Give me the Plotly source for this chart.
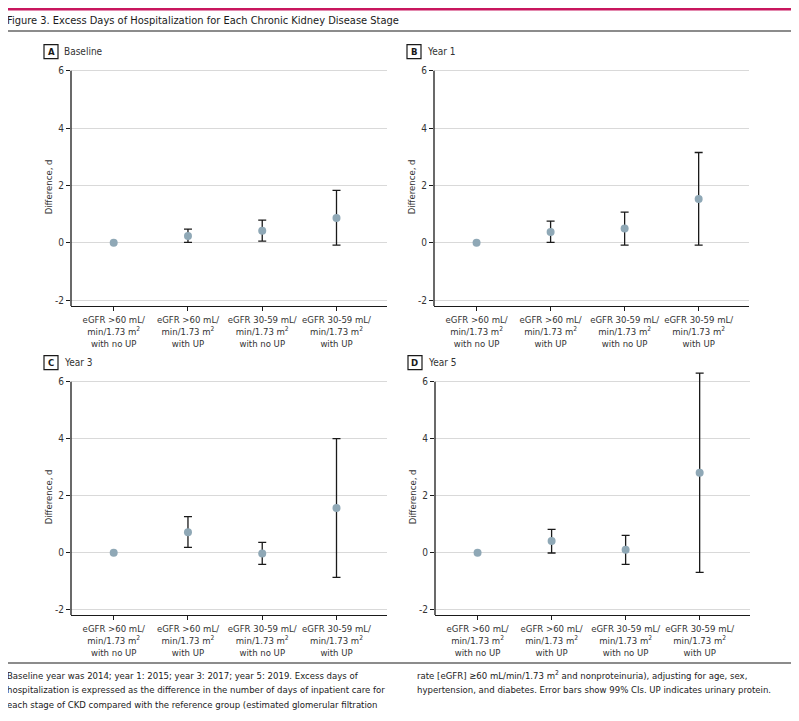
import plotly.graph_objects as go

# ---------------- data ----------------
categories = [
    "eGFR >60 mL/<br>min/1.73 m<sup>2</sup><br>with no UP",
    "eGFR >60 mL/<br>min/1.73 m<sup>2</sup><br>with UP",
    "eGFR 30-59 mL/<br>min/1.73 m<sup>2</sup><br>with no UP",
    "eGFR 30-59 mL/<br>min/1.73 m<sup>2</sup><br>with UP",
]
panel_letters = ["A", "B", "C", "D"]
panel_names = ["Baseline", "Year 1", "Year 3", "Year 5"]

baseline_est = [0.0, 0.24, 0.42, 0.87]
baseline_lo = [0.0, 0.02, 0.06, -0.08]
baseline_hi = [0.0, 0.48, 0.79, 1.83]

year1_est = [0.0, 0.38, 0.50, 1.53]
year1_lo = [0.0, 0.02, -0.08, -0.08]
year1_hi = [0.0, 0.76, 1.07, 3.15]

year3_est = [-0.01, 0.71, -0.04, 1.56]
year3_lo = [-0.01, 0.18, -0.42, -0.88]
year3_hi = [-0.01, 1.26, 0.35, 4.00]

year5_est = [-0.01, 0.40, 0.09, 2.80]
year5_lo = [-0.01, -0.02, -0.42, -0.70]
year5_hi = [-0.01, 0.81, 0.60, 6.30]

y_ticks = [-2, 0, 2, 4, 6]
y_tick_text = ["-2", "0", "2", "4", "6"]

title_text = "Figure 3. Excess Days of Hospitalization for Each Chronic Kidney Disease Stage"
caption_left = [
    "Baseline year was 2014; year 1: 2015; year 3: 2017; year 5: 2019. Excess days of",
    "hospitalization is expressed as the difference in the number of days of inpatient care for",
    "each stage of CKD compared with the reference group (estimated glomerular filtration",
]
caption_right = [
    "rate [eGFR] \u226560 mL/min/1.73 m<sup>2</sup> and nonproteinuria), adjusting for age, sex,",
    "hypertension, and diabetes. Error bars show 99% CIs. UP indicates urinary protein.",
]

series = [
    (baseline_est, baseline_lo, baseline_hi),
    (year1_est, year1_lo, year1_hi),
    (year3_est, year3_lo, year3_hi),
    (year5_est, year5_lo, year5_hi),
]

# ---------------- layout geometry (pixels of the reference) ----------------
OFFX, OFFY = 8, 8          # page offset of the plot div inside the browser
W, H = 799 - OFFX, 721 - OFFY
FONT = "DejaVu Sans Condensed, Liberation Sans Narrow, Arial Narrow, sans-serif"
TXT = "#333333"
MARK = "#8fa8b6"
YMIN, YMAX, YTOP = -2.2, 6.0, 6.45

# (x0, x1, y at value 6, ybottom) in reference pixels
boxes = [
    (71, 387, 70.7, 306),
    (434, 749, 70.7, 306),
    (71, 387, 381.7, 615),
    (435, 750, 381.7, 615),
]

def fx(px):
    return (px - OFFX) / W

def fy(py):
    return 1 - (py - OFFY) / H

fig = go.Figure()

for i, ((est, lo, hi), (x0, x1, yt, yb)) in enumerate(zip(series, boxes)):
    n = i + 1
    xa = "x" if n == 1 else f"x{n}"
    ya = "y" if n == 1 else f"y{n}"
    idx = list(range(len(categories)))
    unit = (yb - yt) / (YMAX - YMIN)
    ytop_px = yt - (YTOP - YMAX) * unit
    # reference point (no CI)
    fig.add_trace(go.Scatter(
        x=[idx[0]], y=[est[0]], mode="markers", xaxis=xa, yaxis=ya,
        marker=dict(color=MARK, size=8), showlegend=False, hoverinfo="skip"))
    # points with CI
    fig.add_trace(go.Scatter(
        x=idx[1:], y=est[1:], mode="markers", xaxis=xa, yaxis=ya,
        marker=dict(color=MARK, size=8),
        error_y=dict(type="data", symmetric=False,
                     array=[h - e for h, e in zip(hi[1:], est[1:])],
                     arrayminus=[e - l for e, l in zip(est[1:], lo[1:])],
                     color="#1a1a1a", thickness=1.3, width=4),
        showlegend=False, hoverinfo="skip"))

    xkey = "xaxis" if n == 1 else f"xaxis{n}"
    ykey = "yaxis" if n == 1 else f"yaxis{n}"
    fig.update_layout(**{
        xkey: dict(domain=[fx(x0), fx(x1)], anchor=ya, range=[-0.575, 3.68],
                   tickvals=idx, ticktext=categories, tickangle=0, showgrid=False,
                   showline=True, linecolor="#1a1a1a", linewidth=1.3,
                   ticks="outside", ticklen=4, tickcolor="#1a1a1a",
                   tickfont=dict(family=FONT, size=9.5, color=TXT), zeroline=False,
                   fixedrange=True),
        ykey: dict(domain=[fy(yb), fy(ytop_px)], anchor=xa, range=[YMIN, YTOP],
                   tickvals=y_ticks, ticktext=y_tick_text, showgrid=True,
                   gridcolor="#d9d9d9", gridwidth=1, zeroline=False,
                   showline=False,
                   ticks="outside", ticklen=4, tickcolor="#1a1a1a",
                   tickfont=dict(family=FONT, size=10, color=TXT), fixedrange=True),
    })
    # y axis line from bottom to 6 exactly
    fig.add_shape(type="line", xref="paper", yref=ya, x0=fx(x0), x1=fx(x0), y0=YMIN, y1=YMAX,
                  line=dict(color="#1a1a1a", width=1.3), layer="above")
    # y title
    fig.add_annotation(text="Difference, d", textangle=-90, xref="paper", yref="paper",
                       x=fx(x0 - 23), y=fy((yt + yb) / 2 - 1), showarrow=False,
                       font=dict(family=FONT, size=9.5, color=TXT),
                       xanchor="center", yanchor="middle")
    # panel label box
    bx0 = x0 - 27
    by0 = yt - 26
    fig.add_shape(type="rect", xref="paper", yref="paper",
                  x0=fx(bx0), x1=fx(bx0 + 14), y0=fy(by0), y1=fy(by0 + 14),
                  line=dict(color="#1a1a1a", width=1.2), fillcolor="white")
    fig.add_annotation(text="<b>" + panel_letters[i] + "</b>", xref="paper", yref="paper",
                       x=fx(bx0 + 7), y=fy(by0 + 7), showarrow=False,
                       font=dict(family=FONT, size=9.5, color="#1a1a1a"),
                       xanchor="center", yanchor="middle")
    fig.add_annotation(text=panel_names[i], xref="paper", yref="paper",
                       x=fx(bx0 + 18), y=fy(by0 + 7), showarrow=False,
                       font=dict(family=FONT, size=10, color=TXT),
                       xanchor="left", yanchor="middle")

# top pink band and title rule
fig.add_shape(type="rect", xref="paper", yref="paper", x0=fx(6), x1=fx(793), y0=fy(7.5), y1=fy(10.5),
              line=dict(width=0), fillcolor="#c8175e")
fig.add_shape(type="line", xref="paper", yref="paper", x0=fx(6), x1=fx(793), y0=fy(31), y1=fy(31),
              line=dict(color="#1a1a1a", width=1.2))
fig.add_annotation(text=title_text, xref="paper", yref="paper", x=fx(5), y=fy(20),
                   showarrow=False, xanchor="left", yanchor="middle",
                   font=dict(family=FONT, size=11, color="#1a1a1a"))

# bottom rule and caption
fig.add_shape(type="line", xref="paper", yref="paper", x0=fx(6), x1=fx(793), y0=fy(663), y1=fy(663),
              line=dict(color="#1a1a1a", width=1.2))
for k, line in enumerate(caption_left):
    fig.add_annotation(text=line, xref="paper", yref="paper", x=fx(5), y=fy(675 + 14.7 * k),
                       showarrow=False, xanchor="left", yanchor="middle", align="left",
                       font=dict(family=FONT, size=9.5, color="#1a1a1a"))
for k, line in enumerate(caption_right):
    fig.add_annotation(text=line, xref="paper", yref="paper", x=fx(415), y=fy(675 + 14.7 * k),
                       showarrow=False, xanchor="left", yanchor="middle", align="left",
                       font=dict(family=FONT, size=9.5, color="#1a1a1a"))

fig.update_layout(width=W, height=H, margin=dict(l=0, r=0, t=0, b=0),
                  plot_bgcolor="white", paper_bgcolor="white", showlegend=False)

fig.write_html("out.html", config={"displayModeBar": False})
